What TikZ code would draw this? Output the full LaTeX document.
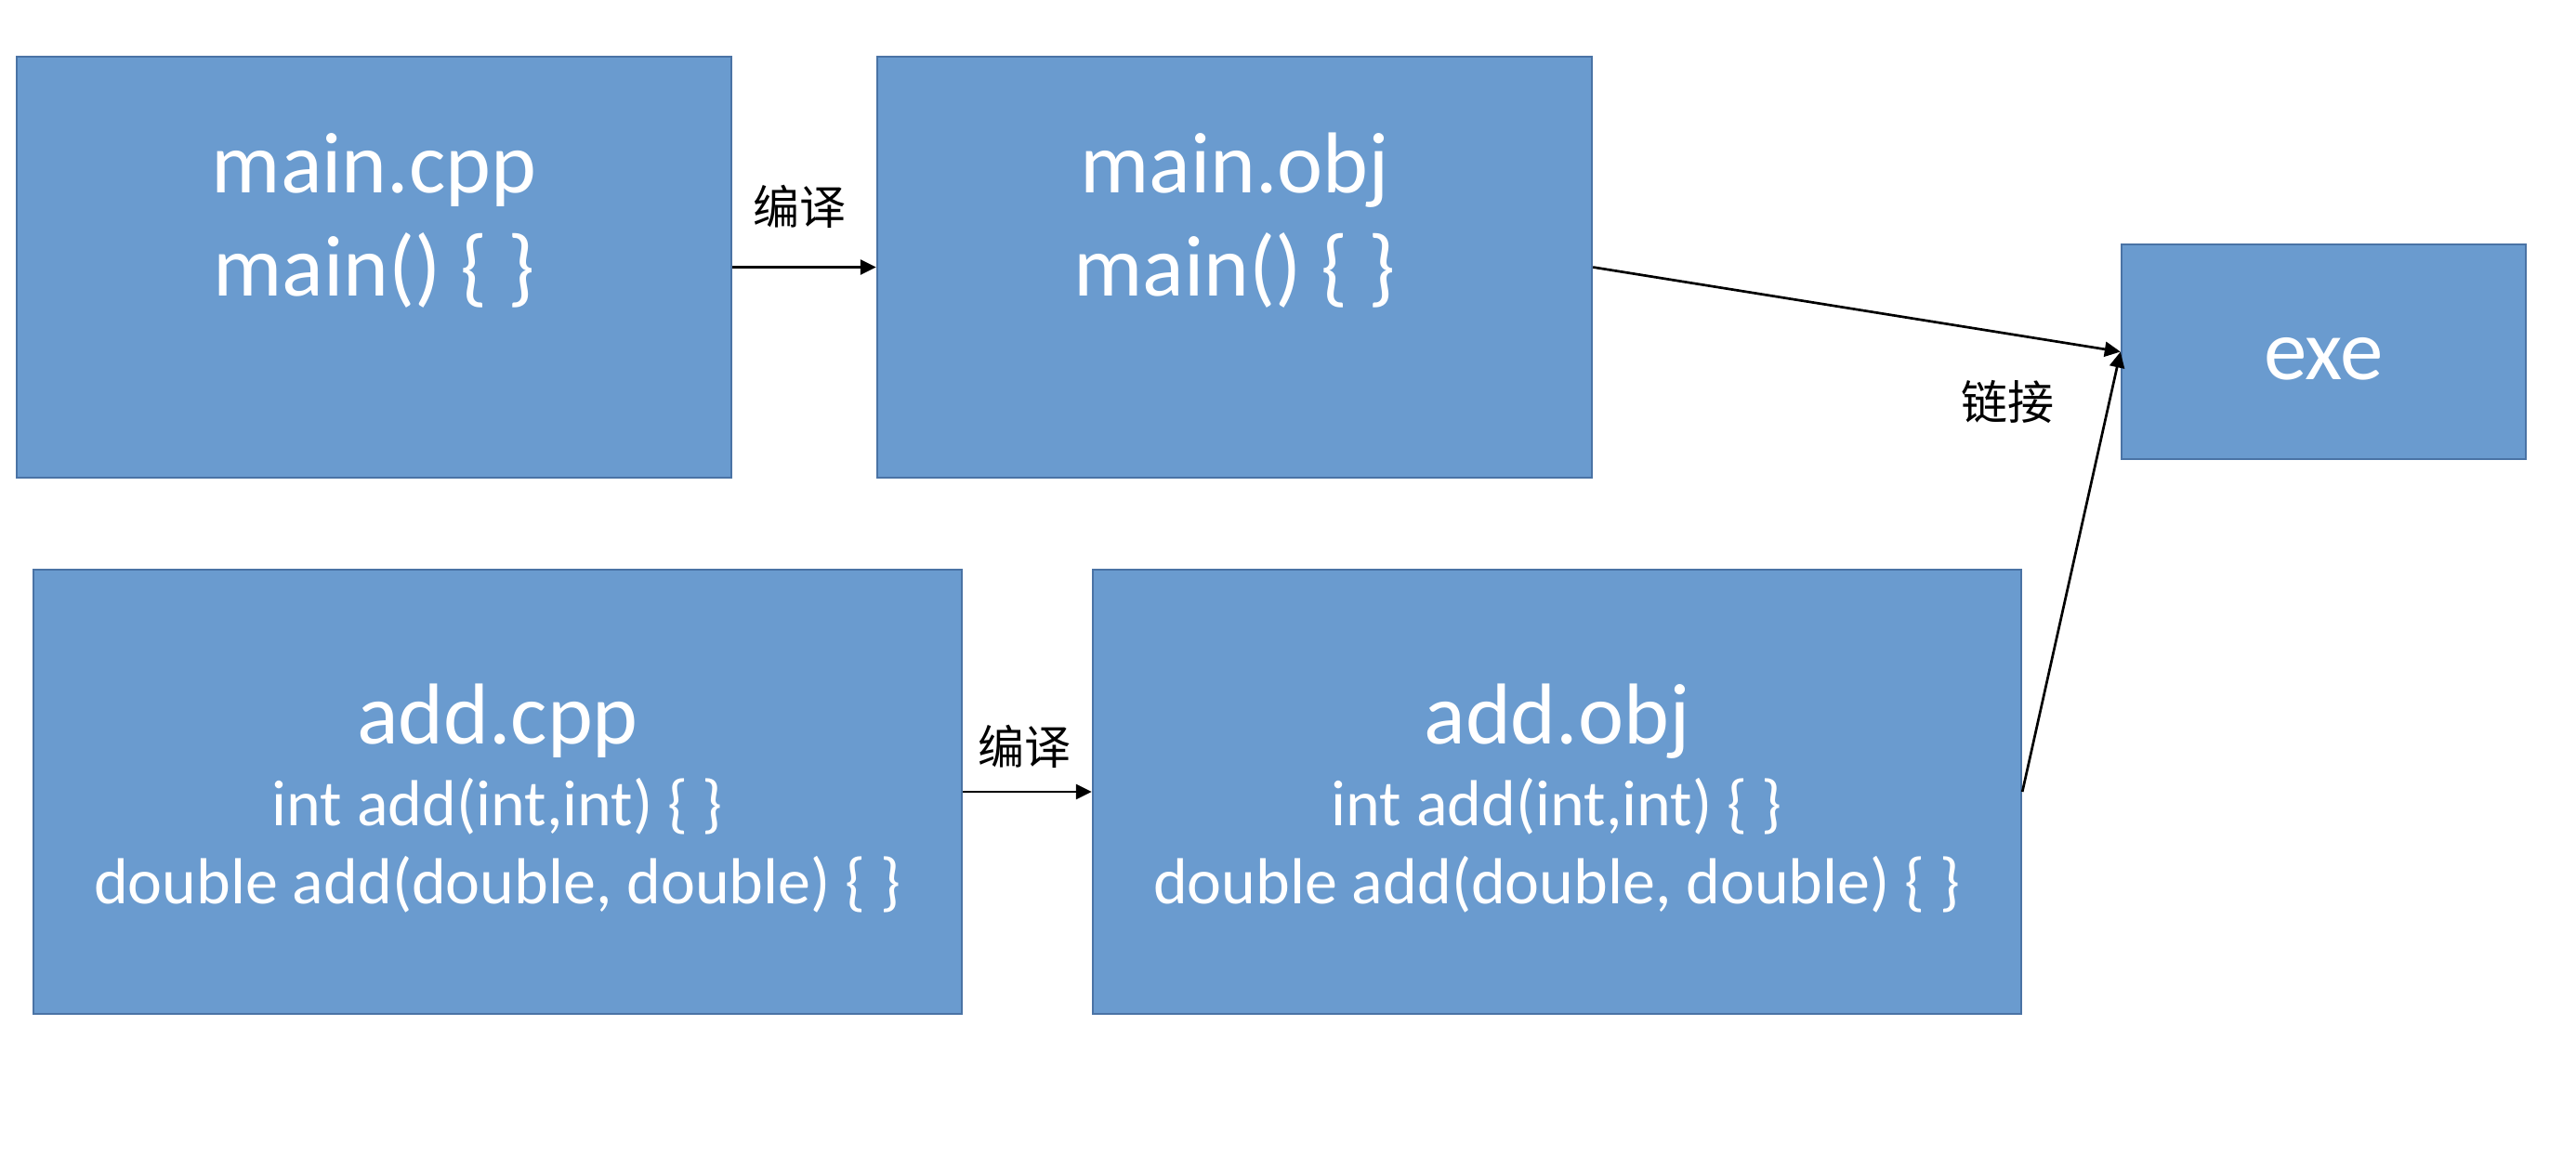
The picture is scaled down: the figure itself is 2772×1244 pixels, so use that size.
\documentclass[tikz,border=0pt]{standalone}
\usepackage{fontspec}
\setmainfont{Carlito}
\newfontfamily\cjk{Noto Sans CJK SC}
\usetikzlibrary{arrows.meta}
\definecolor{boxfill}{HTML}{6A9BCF}
\definecolor{boxline}{HTML}{4A73A5}
\tikzset{
  block/.style 2 args={draw=boxline,fill=boxfill,line width=1.2pt,inner sep=0pt,
    minimum width=#1*0.5pt,minimum height=#2*0.5pt},
  big/.style={text=white,font=\fontsize{46.5}{56}\selectfont,anchor=base,inner sep=0pt},
  small/.style={text=white,font=\fontsize{35}{42}\selectfont,anchor=base,inner sep=0pt},
  lbl/.style={font=\cjk\fontsize{25}{30}\selectfont,inner sep=0pt},
  link/.style={-{Triangle[length=8.5pt,width=8pt]},line width=1.35pt}
}
\begin{document}
\begin{tikzpicture}[x=0.5pt,y=-0.5pt]
\path[use as bounding box] (0,0) rectangle (2772,1244);
% boxes
\node[block={769}{453}] (maincpp) at (402.5,287.5) {};
\node[big] (maincppA) at (402.5,207) {main.cpp};
\node[big] (maincppB) at (402.5,318) {main() \{ \}};
\node[block={769}{453}] (mainobj) at (1328.5,287.5) {};
\node[big] (mainobjA) at (1328.5,207) {main.obj};
\node[big] (mainobjB) at (1328.5,318) {main() \{ \}};
\node[block={435}{231}] (exe) at (2500.5,378.5) {};
\node[big] (exeA) at (2500.5,408) {exe};
\node[block={999}{478}] (addcpp) at (535.5,852) {};
\node[big] (addcppA) at (535.5,800) {add.cpp};
\node[small] (addcppB) at (535.5,888) {int add(int,int) \{ \}};
\node[small] (addcppC) at (535.5,972) {double add(double, double) \{ \}};
\node[block={999}{478}] (addobj) at (1675.5,852) {};
\node[big] (addobjA) at (1675.5,800) {add.obj};
\node[small] (addobjB) at (1675.5,888) {int add(int,int) \{ \}};
\node[small] (addobjC) at (1675.5,972) {double add(double, double) \{ \}};
% connectors
\draw[link] (maincpp.east) -- (mainobj.west);
\draw[link] (addcpp.east) -- (addobj.west);
\draw[link] (mainobj.east) -- (exe.west);
\draw[link] (addobj.east) -- (exe.west);
% labels
\node[lbl] (l1) at (860,222) {编译};
\node[lbl] (l2) at (1102,803) {编译};
\node[lbl] (l3) at (2160,432) {链接};
\end{tikzpicture}
\end{document}
